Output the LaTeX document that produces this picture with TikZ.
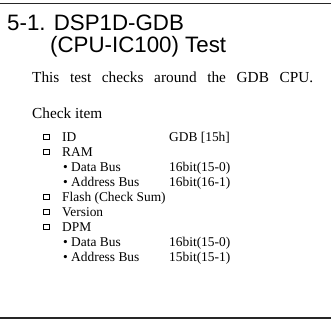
\documentclass[tikz,border=0pt]{standalone}
\usepackage{fontspec}
\setmainfont{Liberation Serif}
\newfontfamily\titlefont{Liberation Sans}
\begin{document}
\begin{tikzpicture}[x=1pt,y=-1pt,
  rule/.style={line width=1.8pt,black!85},
  ttl/.style={anchor=base west,inner sep=0pt,font=\titlefont\fontsize{22.3}{26}\selectfont},
  body/.style={anchor=base west,inner sep=0pt,font=\fontsize{15.3}{18}\selectfont},
  item/.style={anchor=base west,inner sep=0pt,font=\fontsize{13.4}{15}\selectfont},
  cbox/.style={draw,line width=0.9pt,minimum width=5.5pt,minimum height=5.5pt,inner sep=0pt,anchor=south west}]
\useasboundingbox (0,0) rectangle (331,322);
\coordinate (tl) at (0,3.5);
\coordinate (tr) at (331,3.5);
\coordinate (bl) at (0,318);
\coordinate (br) at (331,318);
\draw[rule] (tl) -- (tr);
\draw[rule] (bl) -- (br);
\node[ttl] (t1) at (7,30) {5-1. DSP1D-GDB};
\node[ttl] (t2) at (50,52) {(CPU-IC100) Test};
\node[body] (b1) at (32,82) {\makebox[281pt][s]{This test checks around the GDB CPU.}};
\node[body] (b2) at (32,118) {Check item};
% check items
\node[cbox] (c1) at (43.3,140) {};
\node[item] (i1) at (62,141) {ID};
\node[item] (v1) at (169,141) {GDB [15h]};
\node[cbox] (c2) at (43.3,155) {};
\node[item] (i2) at (62,156) {RAM};
\node[item] (i3) at (63,171) {\textbullet\ Data Bus};
\node[item] (v3) at (169,171) {16bit(15-0)};
\node[item] (i4) at (63,186) {\textbullet\ Address Bus};
\node[item] (v4) at (169,186) {16bit(16-1)};
\node[cbox] (c5) at (43.3,200) {};
\node[item] (i5) at (62,201) {Flash (Check Sum)};
\node[cbox] (c6) at (43.3,215) {};
\node[item] (i6) at (62,216) {Version};
\node[cbox] (c7) at (43.3,230) {};
\node[item] (i7) at (62,231) {DPM};
\node[item] (i8) at (63,246) {\textbullet\ Data Bus};
\node[item] (v8) at (169,246) {16bit(15-0)};
\node[item] (i9) at (63,261) {\textbullet\ Address Bus};
\node[item] (v9) at (169,261) {15bit(15-1)};
\end{tikzpicture}
\end{document}
